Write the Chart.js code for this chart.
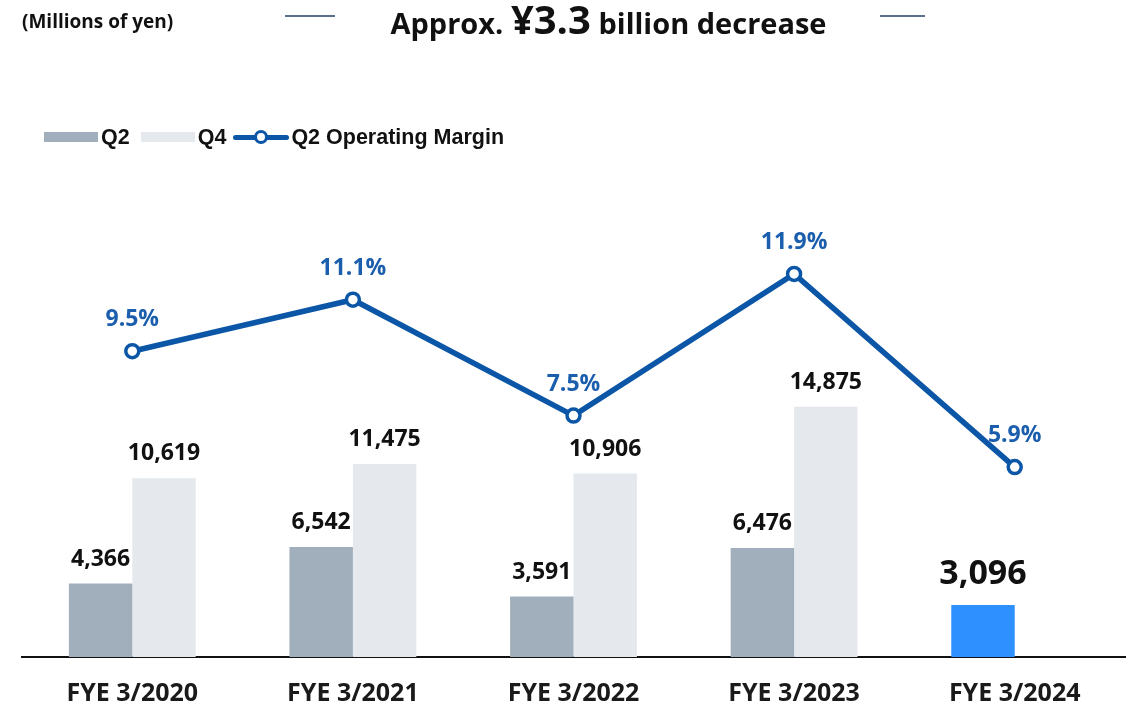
<!DOCTYPE html>
<html>
<head>
<meta charset="utf-8">
<script src="https://cdn.jsdelivr.net/npm/chart.js@4.4.1/dist/chart.umd.min.js"></script>
<style>
  body { margin: 0; background: #fff; font-family: 'Open Sans', 'Noto Sans', sans-serif; }
  #wrap { position: relative; width: 1135px; height: 708px; overflow: hidden; }
  #chart { position: absolute; left: 0; top: 0; }
  .unit { position: absolute; left: 22px; top: 8px; font-size: 19px; font-weight: 700; color: #111; line-height: 26px; }
  .title { position: absolute; left: 0; width: 1135px; top: -3px; text-align: center; font-weight: 700; color: #111; font-size: 29px; line-height: 44px; padding-left: 82px; box-sizing: border-box; }
  .title .big { font-size: 40px; }
  .rule { position: absolute; top: 15px; height: 2px; background: #5b6f8a; }
  .legend { position: absolute; left: 44px; top: 125px; font: bold 21.5px 'Liberation Sans', Arial, sans-serif; color: #111; display: flex; align-items: center; height: 24px; }
  .legend .box { display: inline-block; width: 54px; height: 10px; margin-right: 3px; }
  .legend .item { display: flex; align-items: center; margin-right: 11px; }
  .legend .ln { position: relative; width: 56px; height: 20px; margin-right: 2px; }
  .legend .ln:before { content: ''; position: absolute; left: 0; right: 0; top: 8px; height: 5px; background: #0b56a6; border-radius: 2.5px; }
  .legend .ln:after { content: ''; position: absolute; left: 21px; top: 3px; width: 8px; height: 8px; border: 3px solid #0b56a6; border-radius: 50%; background: #fff; }
</style>
</head>
<body>
<div id="wrap">
  <canvas id="chart" width="1135" height="708"></canvas>
  <div class="unit">(Millions of yen)</div>
  <div class="rule" style="left:285px;width:50px"></div>
  <div class="rule" style="left:880px;width:45px"></div>
  <div class="title">Approx. <span class="big">¥3.3</span> billion decrease</div>
  <div class="legend">
    <div class="item"><span class="box" style="background:#a1afbd"></span>Q2</div>
    <div class="item"><span class="box" style="background:#e5e8ed"></span>Q4</div>
    <div class="item" style="margin-left:-4px"><span class="ln"></span>Q2 Operating Margin</div>
  </div>
</div>
<script>
// данные
const categories = ['FYE 3/2020', 'FYE 3/2021', 'FYE 3/2022', 'FYE 3/2023', 'FYE 3/2024'];
const q2Values = [4366, 6542, 3591, 6476, 3096];
const q4Values = [10619, 11475, 10906, 14875, null];
const marginValues = [9.5, 11.1, 7.5, 11.9, 5.9];

const q2Colors = q2Values.map((v, i) => (i === q2Values.length - 1 ? '#2e8fff' : '#a1afbd'));
const FONT = '"Open Sans", "Noto Sans", sans-serif';

// подписи значений над столбцами, точками и категориями
const valueLabelsPlugin = {
  id: 'valueLabels',
  afterDatasetsDraw(chart) {
    const ctx = chart.ctx;
    ctx.save();
    ctx.textAlign = 'center';
    ctx.textBaseline = 'alphabetic';
    chart.data.datasets.forEach((ds, di) => {
      const meta = chart.getDatasetMeta(di);
      meta.data.forEach((el, i) => {
        const v = ds.data[i];
        if (v === null || v === undefined) return;
        if (ds.type === 'line') {
          ctx.fillStyle = '#1b5eae';
          ctx.font = 'bold 23px ' + FONT;
          ctx.fillText(v.toFixed(1) + '%', el.x, el.y - 25);
        } else {
          const last = ds.label === 'Q2' && i === q2Values.length - 1;
          ctx.fillStyle = '#111';
          ctx.font = (last ? 'bold 34px ' : 'bold 23px ') + FONT;
          ctx.fillText(v.toLocaleString('en-US'), el.x, el.y - (last ? 21 : 18));
        }
      });
    });
    // подписи категорий
    const xScale = chart.scales.x;
    ctx.fillStyle = '#1a1a1a';
    ctx.font = 'bold 25px ' + FONT;
    ctx.textBaseline = 'middle';
    categories.forEach((c, i) => {
      ctx.fillText(c, xScale.getPixelForValue(i), 694);
    });
    ctx.restore();
  },
};

const ctx = document.getElementById('chart').getContext('2d');
new Chart(ctx, {
  type: 'bar',
  data: {
    labels: categories,
    datasets: [
      {
        type: 'line',
        label: 'Q2 Operating Margin',
        data: marginValues,
        yAxisID: 'y1',
        borderColor: '#0b56a6',
        borderWidth: 5.5,
        pointRadius: 6.5,
        pointBorderWidth: 3.5,
        pointBackgroundColor: '#fff',
        pointBorderColor: '#0b56a6',
        tension: 0,
        order: 0,
      },
      {
        label: 'Q2',
        data: q2Values,
        backgroundColor: q2Colors,
        yAxisID: 'y',
        barPercentage: 1,
        categoryPercentage: 0.575,
        order: 1,
      },
      {
        label: 'Q4',
        data: q4Values,
        backgroundColor: '#e5e8ed',
        yAxisID: 'y',
        barPercentage: 1,
        categoryPercentage: 0.575,
        order: 1,
      },
    ],
  },
  options: {
    animation: false,
    responsive: false,
    layout: { padding: { top: 160, left: 22, right: 8, bottom: 51 } },
    plugins: {
      legend: { display: false },
      tooltip: { enabled: false },
      title: { display: false },
    },
    scales: {
      x: {
        grid: { display: false, drawTicks: false },
        border: { display: true, color: '#111', width: 2 },
        ticks: { display: false },
      },
      y: { display: false, min: 0, max: 29540 },
      y1: { display: false, min: 0, max: 15.44 },
    },
  },
  plugins: [valueLabelsPlugin],
});
</script>
</body>
</html>
